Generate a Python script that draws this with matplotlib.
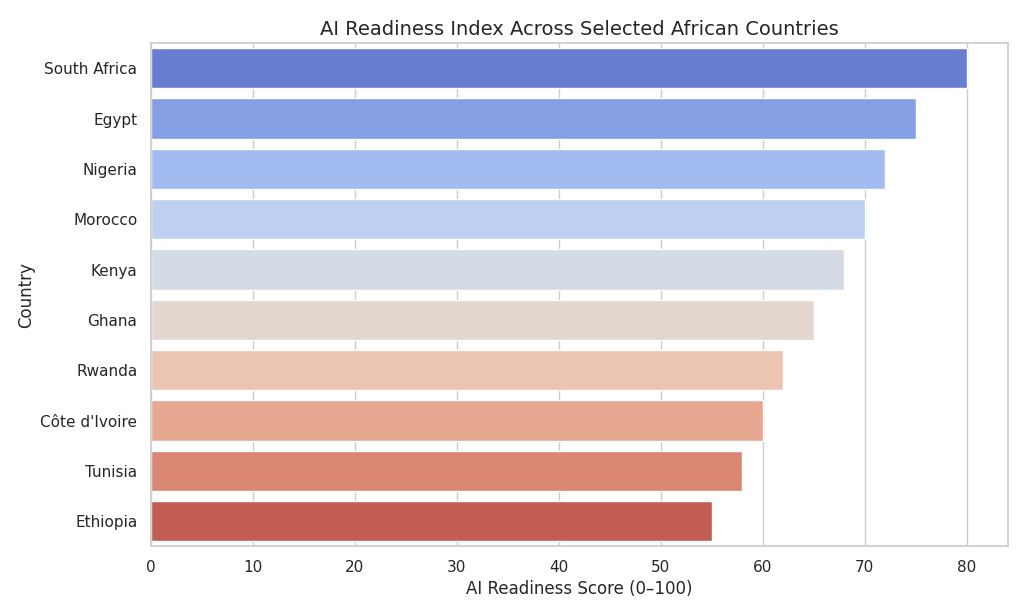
import matplotlib
matplotlib.use("Agg")
import matplotlib.pyplot as plt
import seaborn as sns
import pandas as pd

countries = ["South Africa", "Egypt", "Nigeria", "Morocco", "Kenya", "Ghana",
             "Rwanda", "Côte d'Ivoire", "Tunisia", "Ethiopia"]
scores = [80, 75, 72, 70, 68, 65, 62, 60, 58, 55]

sns.set_theme(style="whitegrid")
df = pd.DataFrame({"Country": countries, "Score": scores})
fig, ax = plt.subplots(figsize=(10.24, 6.14), dpi=100)
sns.barplot(data=df, x="Score", y="Country", hue="Country",
            palette="coolwarm", legend=False, ax=ax)
ax.set_title("AI Readiness Index Across Selected African Countries", fontsize=14)
ax.set_xlabel("AI Readiness Score (0–100)", fontsize=12)
ax.set_ylabel("Country", fontsize=12)
fig.subplots_adjust(left=0.147, right=0.984, top=0.93, bottom=0.11)
fig.savefig("out.png", dpi=100)
